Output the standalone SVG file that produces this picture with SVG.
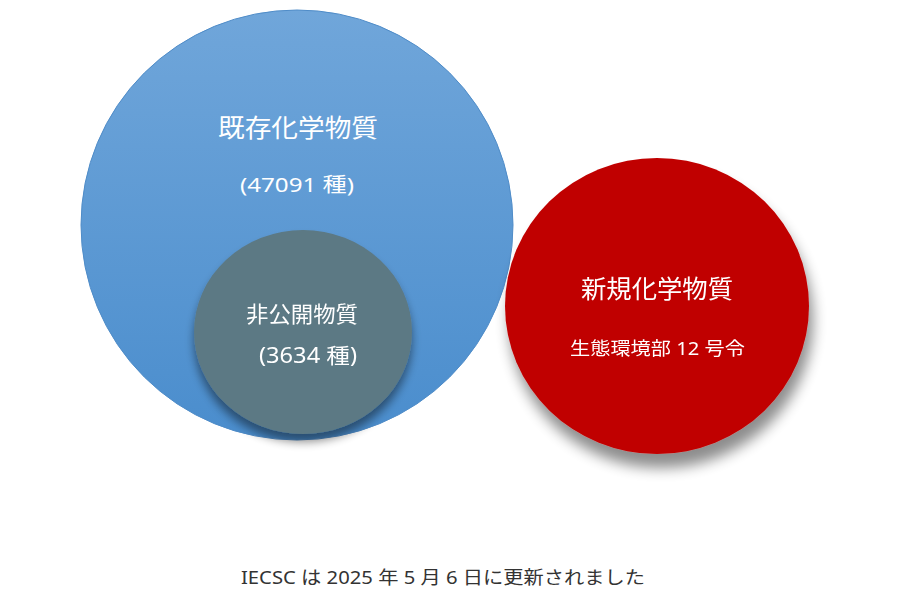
<svg xmlns="http://www.w3.org/2000/svg" width="903" height="604" viewBox="0 0 903 604">
<defs>
<style>
text{font-family:"Noto Sans","Noto Sans CJK JP",sans-serif;fill:#fff}
.cap{fill:#333;font-size:18px}
</style>
<linearGradient id="gb" x1="0" y1="0" x2="0" y2="1">
<stop offset="0" stop-color="#70A6DA"/>
<stop offset="1" stop-color="#4A8DCD"/>
</linearGradient>
<filter id="sh" x="-20%" y="-20%" width="150%" height="150%">
<feGaussianBlur in="SourceAlpha" stdDeviation="7"/>
<feOffset dx="4" dy="14"/>
<feComponentTransfer><feFuncA type="linear" slope="0.45"/></feComponentTransfer>
<feMerge><feMergeNode/><feMergeNode in="SourceGraphic"/></feMerge>
</filter>
<filter id="sh2" x="-20%" y="-20%" width="150%" height="150%">
<feGaussianBlur in="SourceAlpha" stdDeviation="5"/>
<feOffset dx="0" dy="8"/>
<feComponentTransfer><feFuncA type="linear" slope="0.45"/></feComponentTransfer>
<feMerge><feMergeNode/><feMergeNode in="SourceGraphic"/></feMerge>
</filter>
</defs>
<rect width="903" height="604" fill="#fff"/>
<g id="existing">
<ellipse cx="297" cy="225" rx="216" ry="215" fill="url(#gb)" stroke="#4F8CC8" stroke-width="1"/>
<text x="218" y="137" font-size="25" textLength="160" lengthAdjust="spacingAndGlyphs">既存化学物質</text>
<text x="240" y="192" font-size="20" textLength="114" lengthAdjust="spacingAndGlyphs">(47091 種)</text>
</g>
<g id="nonpublic" filter="url(#sh2)">
<ellipse cx="303" cy="332" rx="109" ry="102" fill="#5C7984"/>
<text x="246" y="322" font-size="22" textLength="112" lengthAdjust="spacingAndGlyphs">非公開物質</text>
<text x="259" y="363" font-size="21" textLength="98" lengthAdjust="spacingAndGlyphs">(3634 種)</text>
</g>
<g id="new" filter="url(#sh)">
<ellipse cx="657" cy="306" rx="152" ry="148" fill="#C00000"/>
<text x="581" y="298" font-size="25" textLength="152" lengthAdjust="spacingAndGlyphs">新規化学物質</text>
<text x="570" y="355" font-size="18" textLength="175" lengthAdjust="spacingAndGlyphs">生態環境部 12 号令</text>
</g>
<text class="cap" x="241" y="584" textLength="404" lengthAdjust="spacingAndGlyphs">IECSC は 2025 年 5 月 6 日に更新されました</text>
</svg>
